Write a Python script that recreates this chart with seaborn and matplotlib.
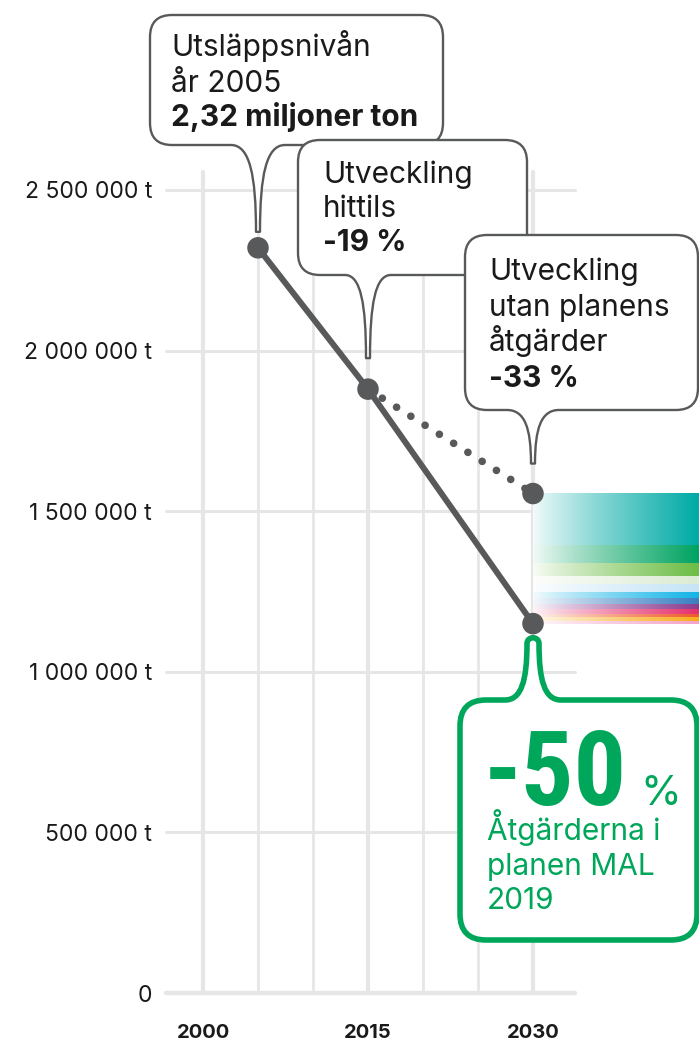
import numpy as np
import pandas as pd
import matplotlib.pyplot as plt
import seaborn as sns
from matplotlib.path import Path
from matplotlib.patches import PathPatch
from matplotlib.colors import LinearSegmentedColormap

# --- data -------------------------------------------------------------
plan_years = [2005, 2015, 2030]
plan_values = [2320000, 1880000, 1150000]
bau_years = [2015, 2030]
bau_values = [1880000, 1555000]

y_ticks = [0, 500000, 1000000, 1500000, 2000000, 2500000]
y_tick_labels = ["0", "500 000 t", "1 000 000 t", "1 500 000 t", "2 000 000 t", "2 500 000 t"]
x_ticks = [2000, 2015, 2030]
x_tick_labels = ["2000", "2015", "2030"]
grid_years = [2000, 2005, 2010, 2015, 2020, 2025, 2030]

# reduction per measure group between the two 2030 levels (top to bottom)
band_sizes = [160000, 56000, 43000, 25000, 25000, 19000, 16000, 15000, 15000, 12000, 12000, 7000]
band_colors = ["#00aaa6", "#00a362", "#6cbd45", "#dcebd3", "#c5e4f6", "#12b4e6",
               "#3b7fc1", "#8c3c8e", "#e5306e", "#ef5a2a", "#f9ad1e", "#f3a4c7"]

GRAY = "#58595b"
GREEN = "#00a65a"
GRID = "#e6e6e7"
TXT = "#1a1a1a"
FONT = ["Inter", "DejaVu Sans"]

W, H = 699, 1046
sns.set_theme(style="white")
plt.rcParams["font.family"] = FONT

fig = plt.figure(figsize=(W / 100, H / 100), dpi=100)
fig.patch.set_facecolor("white")

# pixel layout of the plotting area
px_year0, px_per_year = 203, 11.0
px_zero, px_per_ton = 993, 321.2e-6
ax_left, ax_bottom = 160, 1000
ax = fig.add_axes([ax_left / W, (H - ax_bottom) / H, (W - ax_left) / W, ax_bottom / H])
xlim = (2000 + (ax_left - px_year0) / px_per_year, 2000 + (W - px_year0) / px_per_year)
ylim = ((px_zero - ax_bottom) / px_per_ton, px_zero / px_per_ton)

# grid
ax.hlines(y_ticks, 1996.6, 2033.8, color=GRID, lw=2.2, capstyle="round", zorder=0)
ax.hlines([0], 1996.6, 2033.8, color=GRID, lw=3.2, capstyle="round", zorder=0)
for yr in grid_years:
    ax.vlines(yr, 0, 2556000, color=GRID, lw=3.0 if yr in x_ticks else 2.0,
              capstyle="round", zorder=0)

# gradient bands for the measures
grad = np.linspace(0.03, 1, 256).reshape(1, -1) ** 0.85
top = bau_values[-1]
for size, col in zip(band_sizes, band_colors):
    cmap = LinearSegmentedColormap.from_list("g", ["#ffffff", col])
    ax.imshow(grad, cmap=cmap, vmin=0, vmax=1, aspect="auto", interpolation="bicubic",
              extent=(2030, xlim[1], top - size, top), zorder=1)
    top -= size

# lines
df = pd.DataFrame({
    "year": plan_years + bau_years,
    "value": plan_values + bau_values,
    "scenario": ["plan"] * len(plan_years) + ["bau"] * len(bau_years),
})
sns.lineplot(data=df, x="year", y="value", style="scenario",
             dashes={"plan": "", "bau": (0.01, 2.2)}, color=GRAY,
             linewidth=4.3, legend=False, ax=ax, zorder=3)
for ln in ax.lines:
    ln.set_dash_capstyle("round")
    ln.set_solid_capstyle("round")
    if ln.get_linestyle() != "-":
        ln.set_linewidth(5.5)

pts = pd.DataFrame({"year": plan_years + bau_years[1:],
                    "value": plan_values + bau_values[1:]})
sns.scatterplot(data=pts, x="year", y="value", s=240, color=GRAY,
                edgecolor="none", ax=ax, zorder=4)

ax.set_xlim(*xlim)
ax.set_ylim(*ylim)
ax.set_xticks(x_ticks)
ax.set_xticklabels(x_tick_labels, fontsize=14.5, fontweight="bold", color=TXT)
ax.set_yticks(y_ticks)
ax.set_yticklabels(y_tick_labels, fontsize=16.5, color=TXT)
ax.tick_params(axis="x", length=0, pad=17)
ax.tick_params(axis="y", length=0, pad=5.8)
ax.set_xlabel("")
ax.set_ylabel("")
for s in ax.spines.values():
    s.set_visible(False)
ax.patch.set_alpha(0)

# --- callouts (overlay in pixel coords) --------------------------------
ov = fig.add_axes([0, 0, 1, 1], zorder=3)
ov.set_xlim(0, W)
ov.set_ylim(H, 0)
ov.axis("off")
ov.patch.set_alpha(0)


def to_px(x, y):
    d = ax.transData.transform((x, y))
    return d[0], H - d[1]


def tail(base_l, base_r, ey, tx, ty, tw, rounded):
    sg = 1 if ty > ey else -1
    v = [(base_l, ey),
         (base_l + 0.75 * (tx - tw - base_l), ey), (tx - tw, ey + 0.35 * (ty - ey)), (tx - tw, ty)]
    c = [Path.LINETO, Path.CURVE4, Path.CURVE4, Path.CURVE4]
    if rounded:
        v += [(tx - tw, ty + sg * 1.3 * tw), (tx + tw, ty + sg * 1.3 * tw), (tx + tw, ty)]
        c += [Path.CURVE4] * 3
    else:
        v += [(tx + tw, ty)]
        c += [Path.LINETO]
    v += [(tx + tw, ey + 0.35 * (ty - ey)), (base_r - 0.75 * (base_r - tx - tw), ey), (base_r, ey)]
    c += [Path.CURVE4] * 3
    return v, c


def bubble(x0, y0, x1, y1, r, tip, half, side="bottom", tw=2.0, rounded=False, **kw):
    tx, ty = tip
    ey = y1 if side == "bottom" else y0
    tv, tc = tail(tx - half, tx + half, ey, tx, ty, tw, rounded)
    if side == "bottom":
        v = [(x0 + r, y1)] + tv + [(x1 - r, y1), (x1, y1), (x1, y1 - r), (x1, y0 + r),
             (x1, y0), (x1 - r, y0), (x0 + r, y0), (x0, y0), (x0, y0 + r), (x0, y1 - r),
             (x0, y1), (x0 + r, y1), (x0 + r, y1)]
    else:
        v = [(x0 + r, y0)] + tv + [(x1 - r, y0), (x1, y0), (x1, y0 + r), (x1, y1 - r),
             (x1, y1), (x1 - r, y1), (x0 + r, y1), (x0, y1), (x0, y1 - r), (x0, y0 + r),
             (x0, y0), (x0 + r, y0), (x0 + r, y0)]
    c = [Path.MOVETO] + tc + [Path.LINETO, Path.CURVE3, Path.CURVE3, Path.LINETO,
         Path.CURVE3, Path.CURVE3, Path.LINETO, Path.CURVE3, Path.CURVE3, Path.LINETO,
         Path.CURVE3, Path.CURVE3, Path.CLOSEPOLY]
    ov.add_patch(PathPatch(Path(v, c), facecolor="white", **kw))


px05 = to_px(plan_years[0], plan_values[0])
px15 = to_px(plan_years[1], plan_values[1])
pxbau = to_px(bau_years[1], bau_values[1])
pxplan = to_px(plan_years[2], plan_values[2])

gkw = dict(edgecolor=GRAY, lw=1.7, joinstyle="round")
bubble(150, 15, 443, 145, 22, (px05[0], px05[1] - 16), 27, **gkw)
bubble(298, 140, 527, 275, 22, (px15[0], px15[1] - 31), 23, **gkw)
bubble(465, 235, 698, 410, 22, (pxbau[0], pxbau[1] - 30), 26, **gkw)
bubble(460, 700, 697, 940, 26, (pxplan[0], pxplan[1] + 20), 28, side="top", tw=6,
       rounded=True, edgecolor=GREEN, lw=4.0, joinstyle="round")

fs = 21.5
ov.text(171, 56, "Utsläppsnivån", fontsize=fs, color=TXT)
ov.text(171, 92, "år 2005", fontsize=fs, color=TXT)
ov.text(171, 126, "2,32 miljoner ton", fontsize=fs, fontweight="bold", color=TXT)

ov.text(323, 183, "Utveckling", fontsize=fs, color=TXT)
ov.text(323, 217, "hittils", fontsize=fs, color=TXT)
ov.text(323, 251, "-19 %", fontsize=fs, fontweight="bold", color=TXT)

ov.text(489, 280, "Utveckling", fontsize=fs, color=TXT)
ov.text(489, 316, "utan planens", fontsize=fs, color=TXT)
ov.text(489, 351, "åtgärder", fontsize=fs, color=TXT)
ov.text(489, 387, "-33 %", fontsize=fs, fontweight="bold", color=TXT)

ov.text(484, 805, "-50", fontsize=75, fontweight="bold", color=GREEN,
        family=["Roboto Condensed", "Liberation Sans Narrow", "DejaVu Sans"])
ov.text(640, 805, "%", fontsize=30, color=GREEN)
ov.text(487, 840, "Åtgärderna i", fontsize=fs, color=GREEN)
ov.text(487, 875, "planen MAL", fontsize=fs, color=GREEN)
ov.text(487, 909, "2019", fontsize=fs, color=GREEN)

fig.savefig("out.png", dpi=100)
